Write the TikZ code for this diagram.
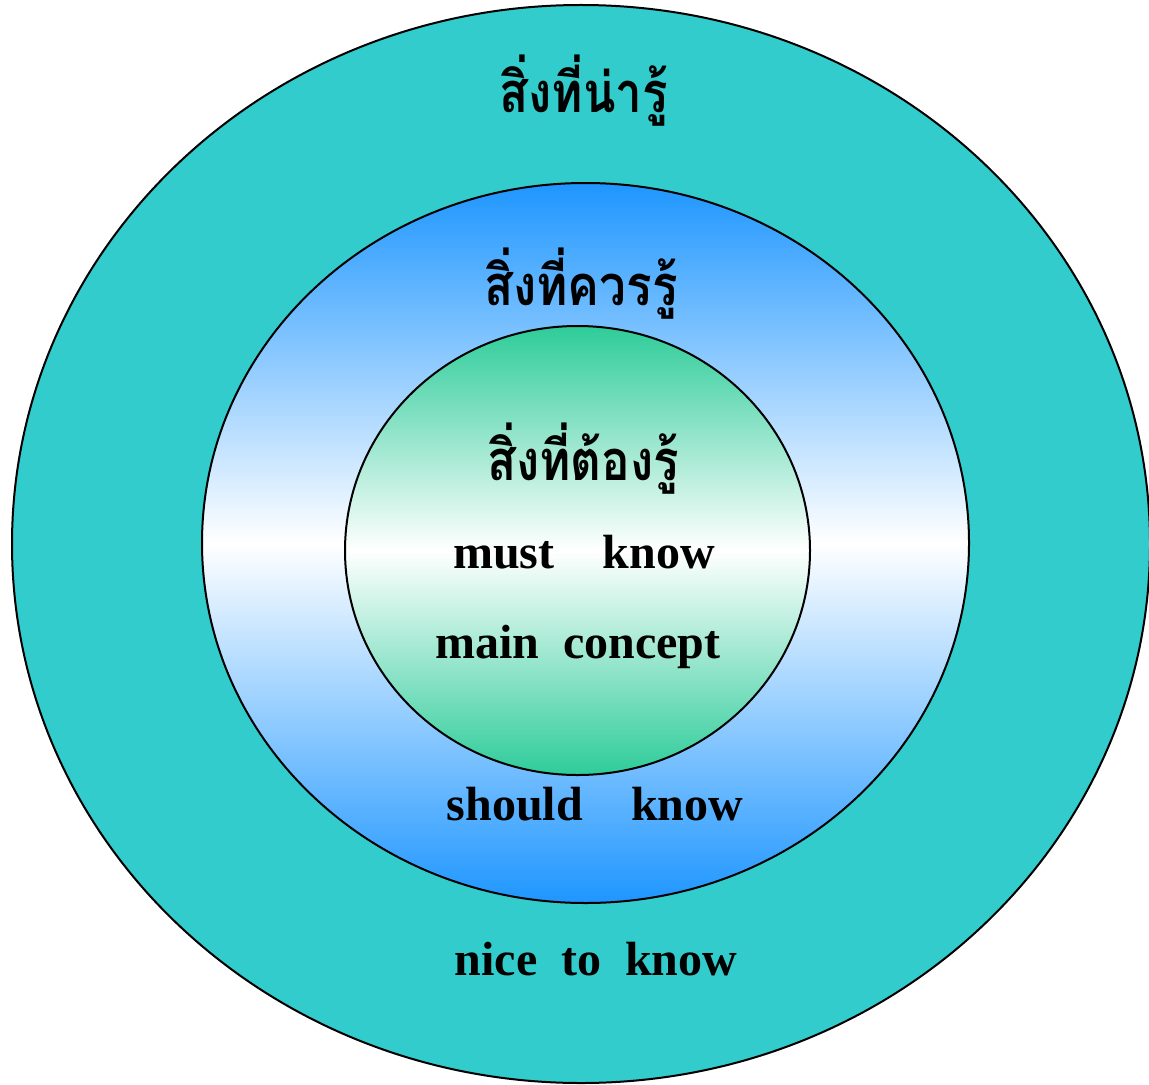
\documentclass[tikz,border=0pt]{standalone}
\usepackage{fontspec}
\setmainfont{Liberation Serif}
\newfontfamily\thaifont[Script=Thai, FakeStretch=0.85]{Loma}
\usepackage{xcolor}
\usepackage{tikz}
\usetikzlibrary{calc,positioning}

\definecolor{ringteal}{HTML}{33CCCC}
\definecolor{ringblue}{HTML}{1E96FF}
\definecolor{ringgreen}{HTML}{2ECC99}

\tikzset{
    ring/.style={draw=black, line width=1pt},
    thailabel/.style={anchor=base, font=\thaifont\bfseries\fontsize{28}{34}\selectfont},
    enlabel/.style={anchor=base, font=\bfseries\fontsize{24}{29}\selectfont}
}

\begin{document}
\begin{tikzpicture}[x=0.5pt, y=0.5pt]

    \useasboundingbox (0,0) rectangle (1149,1084);
    \clip (0,0) rectangle (1149,1084);

    % Rings
    \draw[ring, fill=ringteal] (581,540) ellipse [x radius=569, y radius=539];
    \shade[top color=ringblue, bottom color=ringblue, middle color=white]
        (585.5,541) ellipse [x radius=383.5, y radius=360];
    \draw[ring] (585.5,541) ellipse [x radius=383.5, y radius=360];
    \shade[top color=ringgreen, bottom color=ringgreen, middle color=white]
        (577.5,533.5) ellipse [x radius=232.5, y radius=224.5];
    \draw[ring] (577.5,533.5) ellipse [x radius=232.5, y radius=224.5];

    % Labels
    \node[thailabel] (nice-th) at (584,971) {สิ่งที่น่ารู้};
    \node[thailabel] (should-th) at (581,779) {สิ่งที่ควรรู้};
    \node[thailabel] (must-th) at (583,604) {สิ่งที่ต้องรู้};

    \node[enlabel] (must-en) at (584,516) {must\hspace{24pt}know};
    \node[enlabel] (main-en) at (578,426) {main\hspace{12pt}concept};
    \node[enlabel] (should-en) at (595,264) {should\hspace{24pt}know};
    \node[enlabel] (nice-en) at (596,109) {nice\hspace{12pt}to\hspace{12pt}know};

\end{tikzpicture}
\end{document}
